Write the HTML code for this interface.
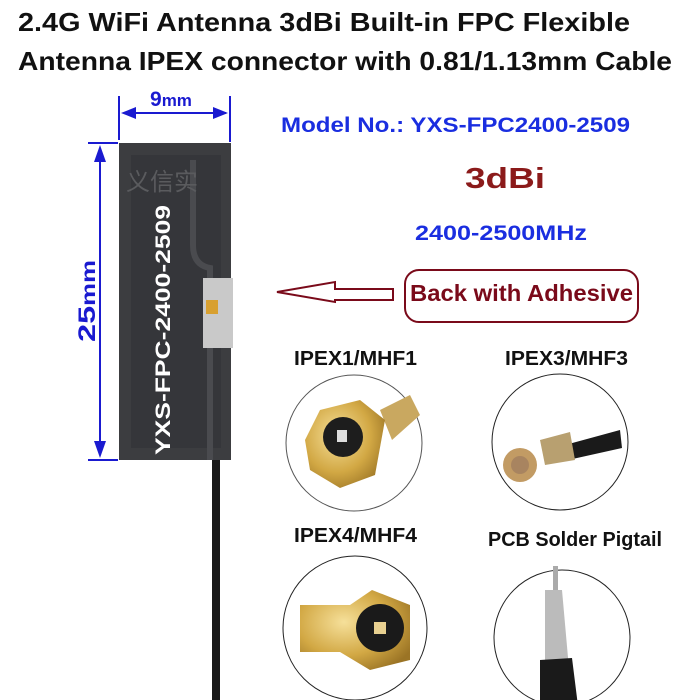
<!DOCTYPE html>
<html><head><meta charset="utf-8"><style>
html,body{margin:0;padding:0;background:#fff;width:700px;height:700px;overflow:hidden}
svg{display:block}
text{font-family:"Liberation Sans",sans-serif;font-weight:bold}
</style></head><body>
<svg width="700" height="700" viewBox="0 0 700 700" xmlns="http://www.w3.org/2000/svg">
<defs>
<radialGradient id="gold" cx="0.4" cy="0.4" r="0.7"><stop offset="0" stop-color="#f6e09a"/><stop offset="0.6" stop-color="#d2a844"/><stop offset="1" stop-color="#9b7425"/></radialGradient>
</defs>
<text x="18" y="31" font-size="26" fill="#111" textLength="612" lengthAdjust="spacingAndGlyphs">2.4G WiFi Antenna 3dBi Built-in FPC Flexible</text>
<text x="18" y="70" font-size="26" fill="#111" textLength="654" lengthAdjust="spacingAndGlyphs">Antenna IPEX connector with 0.81/1.13mm Cable</text>

<rect x="212" y="340" width="8" height="360" fill="#1a1a1a"/>
<rect x="119" y="143" width="112" height="317" fill="#3c3d40"/>
<rect x="131" y="155" width="90" height="293" fill="#35363a"/>
<path d="M193 160 V245 Q193 265 210 268 V460" stroke="#4a4b4f" stroke-width="6" fill="none"/>
<text x="126" y="190" font-size="24" fill="#5a5b5e" style="font-weight:normal;font-family:'Noto Sans CJK SC',sans-serif">义信实</text>
<rect x="203" y="278" width="30" height="70" fill="#c9c9c9"/>
<rect x="206" y="300" width="12" height="14" fill="#d8a030"/>
<text transform="translate(170,455) rotate(-90)" font-size="21" fill="#fff" textLength="250" lengthAdjust="spacingAndGlyphs">YXS-FPC-2400-2509</text>

<g stroke="#1a1ad0" stroke-width="2" fill="#1a1ad0">
<line x1="119" y1="96" x2="119" y2="140"/><line x1="230" y1="96" x2="230" y2="142"/>
<line x1="124" y1="113" x2="226" y2="113"/>
<path d="M121 113 L136 107 L136 119Z" stroke="none"/><path d="M228 113 L213 107 L213 119Z" stroke="none"/>
<line x1="88" y1="143" x2="118" y2="143"/><line x1="88" y1="460" x2="118" y2="460"/>
<line x1="100" y1="148" x2="100" y2="455"/>
<path d="M100 145 L94 162 L106 162Z" stroke="none"/><path d="M100 458 L94 441 L106 441Z" stroke="none"/>
</g>
<text x="150" y="106" font-size="21" fill="#1a1ad0">9<tspan font-size="17">mm</tspan></text>
<text transform="translate(95,342) rotate(-90)" font-size="24" fill="#1a1ad0" textLength="82" lengthAdjust="spacingAndGlyphs">25<tspan font-size="19">mm</tspan></text>

<text x="281" y="132" font-size="21" fill="#1a2ee0" textLength="349" lengthAdjust="spacingAndGlyphs">Model No.: YXS-FPC2400-2509</text>
<text x="465" y="188" font-size="29" fill="#8b1a1a" textLength="80" lengthAdjust="spacingAndGlyphs">3dBi</text>
<text x="415" y="240" font-size="21" fill="#1a2ee0" textLength="172" lengthAdjust="spacingAndGlyphs">2400-2500MHz</text>

<path d="M277 292 L335 282 L335 289 L393 289 L393 300 L335 300 L335 302 Z" fill="none" stroke="#7a0a1a" stroke-width="2"/>
<rect x="405" y="270" width="233" height="52" rx="14" fill="#fff" stroke="#7a0a1a" stroke-width="2"/>
<text x="410" y="301" font-size="23" fill="#7a0a1a" textLength="223" lengthAdjust="spacingAndGlyphs">Back with Adhesive</text>

<text x="294" y="365" font-size="20" fill="#111" textLength="123" lengthAdjust="spacingAndGlyphs">IPEX1/MHF1</text>
<text x="505" y="365" font-size="20" fill="#111" textLength="123" lengthAdjust="spacingAndGlyphs">IPEX3/MHF3</text>
<text x="294" y="542" font-size="20" fill="#111" textLength="123" lengthAdjust="spacingAndGlyphs">IPEX4/MHF4</text>
<text x="488" y="546" font-size="20" fill="#111" textLength="174" lengthAdjust="spacingAndGlyphs">PCB Solder Pigtail</text>

<circle cx="354" cy="443" r="68" fill="#fff" stroke="#555" stroke-width="1"/>
<path d="M380 410 L410 395 L420 415 L392 440Z" fill="#c9a860"/>
<path d="M305 440 L320 410 L360 400 L385 420 L375 475 L340 488 L310 470Z" fill="url(#gold)"/>
<circle cx="343" cy="437" r="20" fill="#1d1d1d"/><rect x="337" y="430" width="10" height="12" fill="#ddd"/>

<circle cx="560" cy="442" r="68" fill="#fff" stroke="#222" stroke-width="1"/>
<path d="M565 445 L620 430 L622 448 L568 460Z" fill="#1a1a1a"/>
<path d="M540 440 L570 432 L575 460 L545 465Z" fill="#b8a070"/>
<circle cx="520" cy="465" r="17" fill="#c29b64"/><circle cx="520" cy="465" r="9" fill="#a88460"/>

<circle cx="355" cy="628" r="72" fill="#fff" stroke="#222" stroke-width="1"/>
<path d="M300 605 L350 605 L372 590 L410 605 L410 660 L370 670 L340 652 L300 652Z" fill="url(#gold)"/>
<circle cx="380" cy="628" r="24" fill="#1a1a1a"/><rect x="374" y="622" width="12" height="12" fill="#e8d090"/>

<circle cx="562" cy="638" r="68" fill="#fff" stroke="#222" stroke-width="1"/>
<rect x="553" y="566" width="5" height="25" fill="#aaa"/>
<path d="M545 590 L562 590 L570 680 L545 682Z" fill="#bbb"/>
<path d="M540 660 L572 658 L578 706 L540 706Z" fill="#1a1a1a"/>
</svg>
</body></html>
